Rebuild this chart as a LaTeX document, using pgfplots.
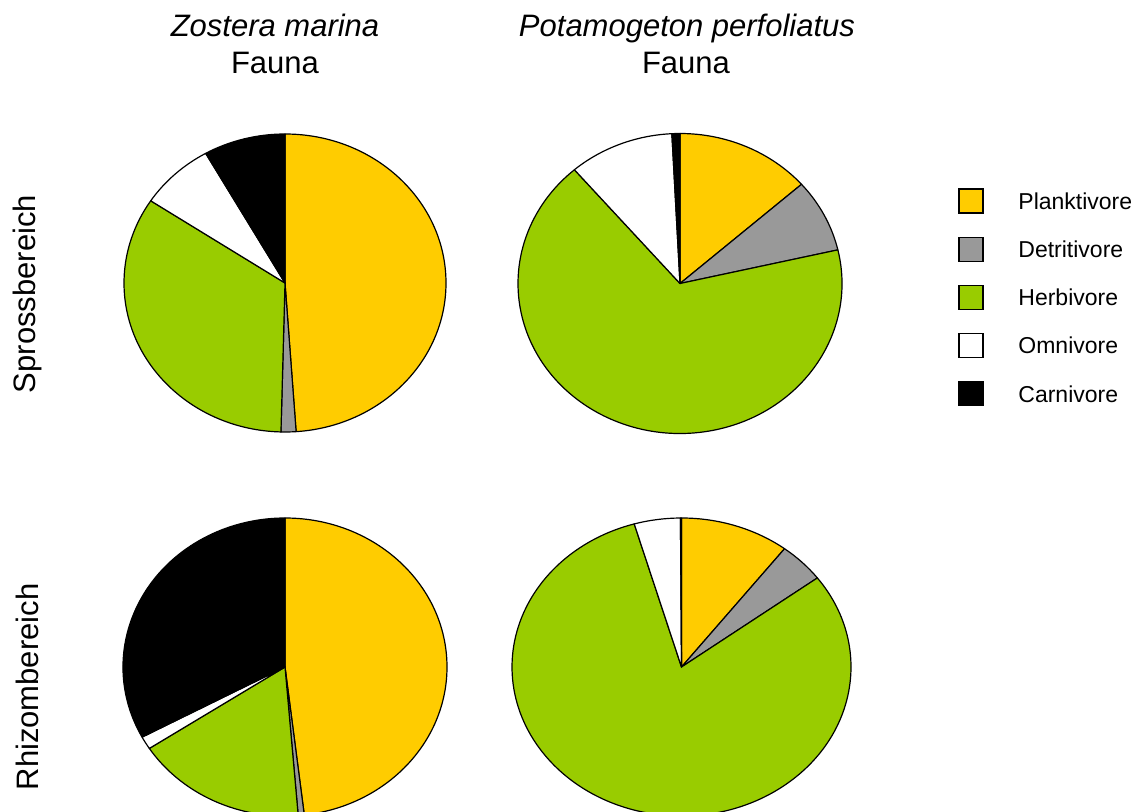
\documentclass[border=0pt]{standalone}
\usepackage{pgfplots}
\usepackage{pgfplotstable}
\pgfplotsset{compat=1.18}
\usepackage{fontspec}
\setmainfont{Liberation Sans}

\definecolor{plankt}{HTML}{FFCC00}
\definecolor{detri}{HTML}{999999}
\definecolor{herbi}{HTML}{99CC00}

% shares in percent, clockwise from 12 o'clock
\pgfplotstableread{
group share col
Planktivore 48.9 plankt
Detritivore 1.5 detri
Herbivore 33.9 herbi
Omnivore 7.5 white
Carnivore 8.2 black
}\zmspross
\pgfplotstableread{
group share col
Planktivore 13.5 plankt
Detritivore 7.9 detri
Herbivore 67.3 herbi
Omnivore 10.5 white
Carnivore 0.8 black
}\ppspross
\pgfplotstableread{
group share col
Planktivore 48.1 plankt
Detritivore 0.6 detri
Herbivore 17.1 herbi
Omnivore 1.4 white
Carnivore 32.8 black
}\zmrhizom
\pgfplotstableread{
group share col
Planktivore 10.4 plankt
Detritivore 4.4 detri
Herbivore 80.7 herbi
Omnivore 4.4 white
Carnivore 0.1 black
}\pprhizom

% #1 table, #2 x radius, #3 y radius
\newcommand{\pie}[3]{%
  \pgfplotsextra{%
    \def\cum{0}%
    \pgfplotstablegetrowsof{#1}%
    \pgfmathtruncatemacro\nrows{\pgfplotsretval-1}%
    \pgfplotsforeachungrouped \i in {0,...,\nrows}{%
      \pgfplotstablegetelem{\i}{share}\of{#1}\let\val\pgfplotsretval
      \pgfplotstablegetelem{\i}{col}\of{#1}\let\colr\pgfplotsretval
      \pgfmathsetmacro\aa{90-3.6*\cum}%
      \pgfmathsetmacro\bb{90-3.6*(\cum+\val)}%
      \filldraw[fill=\colr, draw=black, line width=0.6pt, line join=round]
        (axis cs:0,0) -- (axis cs:{cos(\aa)},{sin(\aa)})
        arc[start angle=\aa, end angle=\bb, x radius=#2, y radius=#3] -- cycle;
      \pgfmathsetmacro\cum{\cum+\val}%
    }%
  }%
}

\pgfplotsset{pieax/.style={
  scale only axis, hide axis, clip=false, anchor=center,
  xmin=-1, xmax=1, ymin=-1, ymax=1}}

\begin{document}
\begin{tikzpicture}
\useasboundingbox (0,0) rectangle (570.5pt,-406pt);
\clip (0,0) rectangle (570.5pt,-406pt);

\begin{axis}[pieax, at={(142.5pt,-141.5pt)}, width=161pt, height=149pt]
\pie{\zmspross}{80.5pt}{74.5pt}
\end{axis}
\begin{axis}[pieax, at={(340pt,-141.75pt)}, width=162pt, height=150pt]
\pie{\ppspross}{81pt}{75pt}
\end{axis}
\begin{axis}[pieax, at={(142.5pt,-333.5pt)}, width=162pt, height=149pt]
\pie{\zmrhizom}{81pt}{74.5pt}
\end{axis}
\begin{axis}[pieax, at={(340.75pt,-333.5pt)}, width=169.5pt, height=149pt]
\pie{\pprhizom}{84.75pt}{74.5pt}
\end{axis}

% titles
\begin{scope}[every node/.style={font=\fontsize{15.5}{18}\selectfont, inner sep=0pt}]
\node[anchor=base] at (137.5pt,-18.5pt) {\itshape Zostera marina};
\node[anchor=base] at (137.5pt,-37pt) {Fauna};
\node[anchor=base] at (343.5pt,-18.5pt) {\itshape Potamogeton perfoliatus};
\node[anchor=base] at (343pt,-37pt) {Fauna};
\node[rotate=90] at (13.5pt,-147pt) {Sprossbereich};
\node[rotate=90] at (13.5pt,-343.5pt) {Rhizombereich};
\end{scope}

% legend
\foreach \c/\t [count=\k from 0] in {plankt/Planktivore, detri/Detritivore, herbi/Herbivore, white/Omnivore, black/Carnivore}{
  \pgfmathsetmacro\yy{-100.5-24.1*\k}
  \filldraw[fill=\c, draw=black, line width=0.6pt] (479.5pt,\yy pt+6pt) rectangle (491.5pt,\yy pt-6pt);
  \node[anchor=west, inner sep=0pt, font=\fontsize{11.5}{13}\selectfont] at (509pt,\yy pt) {\t};
}
\end{tikzpicture}
\end{document}
